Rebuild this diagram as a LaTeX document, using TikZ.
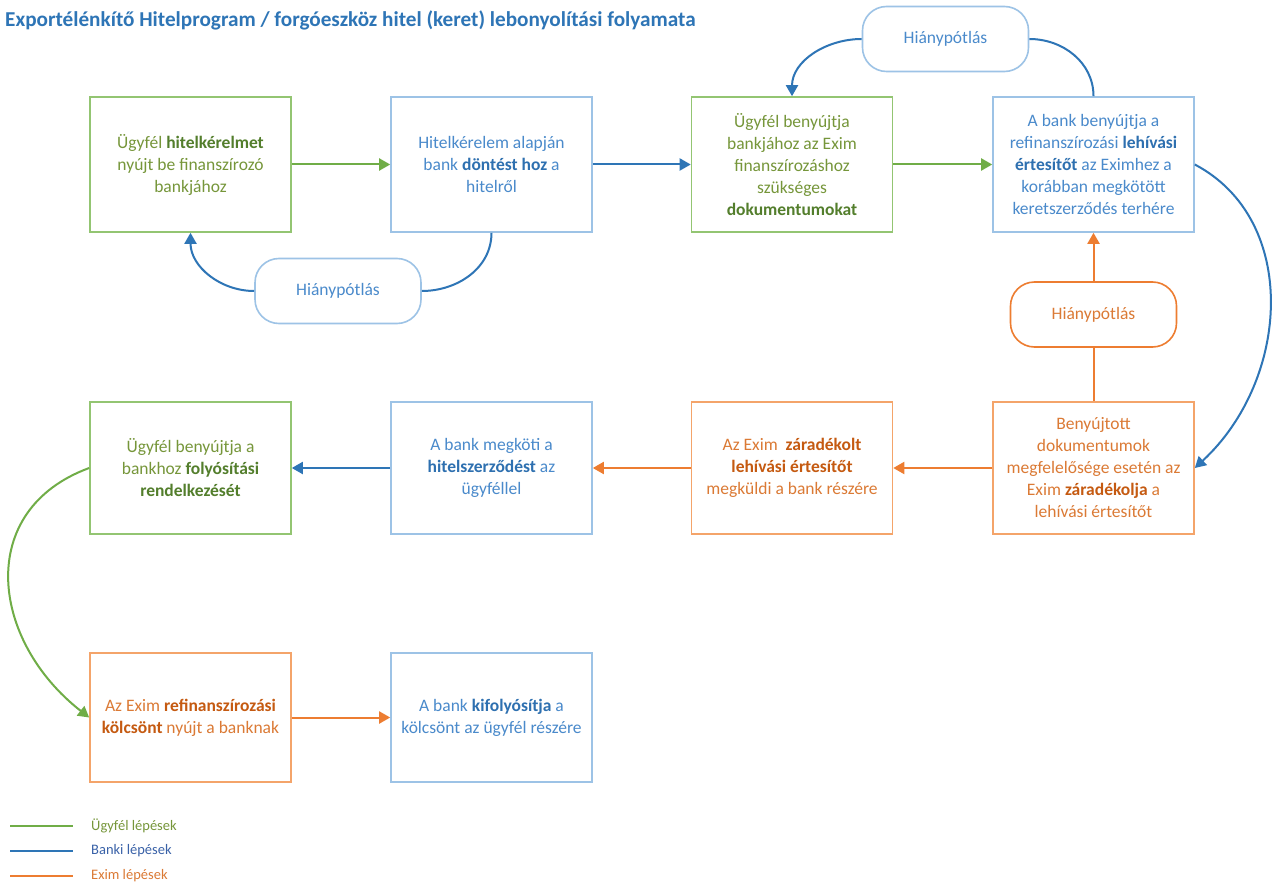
\documentclass[tikz,border=0pt]{standalone}
\usepackage{fontspec}
\setmainfont{Carlito}
\usetikzlibrary{arrows.meta}
\definecolor{gline}{HTML}{70AD47}
\definecolor{bline}{HTML}{2E75B6}
\definecolor{oline}{HTML}{ED7D31}
\definecolor{gborder}{HTML}{93C572}
\definecolor{bborder}{HTML}{9DC3E6}
\definecolor{oborder}{HTML}{F4A46A}
\definecolor{gtext}{HTML}{76963A}
\definecolor{gbold}{HTML}{537E2C}
\definecolor{btext}{HTML}{4A8ACB}
\definecolor{bbold}{HTML}{2E70B0}
\definecolor{otext}{HTML}{DB7A35}
\definecolor{obold}{HTML}{C55A11}
\definecolor{titlec}{HTML}{2E75B6}
\definecolor{legblue}{HTML}{3A62A8}
\newcommand\gbf[1]{\textbf{\color{gbold}#1}}
\newcommand\bbf[1]{\textbf{\color{bbold}#1}}
\newcommand\obf[1]{\textbf{\color{obold}#1}}
\tikzset{
  x=1pt, y=-1pt,
  box/.style={draw, line width=1.6pt, rectangle, minimum width=201pt, inner sep=0pt, align=center,
    font=\fontsize{17.5}{22}\selectfont},
  gbox/.style={box, draw=gborder, text=gtext},
  bbox/.style={box, draw=bborder, text=btext},
  obox/.style={box, draw=oborder, text=otext},
  hpbox/.style={draw, line width=1.6pt, rectangle, rounded corners=24pt, minimum width=166pt, minimum height=65pt,
    inner sep=0pt, font=\fontsize{17.5}{22}\selectfont},
  conn/.style={line width=2pt},
  arr/.style={conn, -{Triangle[length=11pt,width=12pt]}},
  legtext/.style={anchor=west, inner sep=0pt, font=\fontsize{14.5}{16}\selectfont},
}
\begin{document}
\begin{tikzpicture}
\useasboundingbox (0,0) rectangle (1276,885);
\fill[white] (0,0) rectangle (1276,885);

\node[anchor=west, inner sep=0pt, text=titlec, font=\fontsize{21.2}{25}\selectfont\bfseries] (title) at (5,20)
  {Exportélénkítő Hitelprogram / forgóeszköz hitel (keret) lebonyolítási folyamata};

% row 1
\node[gbox, minimum height=135pt] (B1) at (190.5,164.5)
  {Ügyfél \gbf{hitelkérelmet}\\nyújt be finanszírozó\\bankjához};
\node[bbox, minimum height=135pt] (B2) at (491.5,164.5)
  {Hitelkérelem alapján\\bank \bbf{döntést hoz} a\\hitelről};
\node[gbox, minimum height=135pt] (B3) at (792,164.5)
  {Ügyfél benyújtja\\bankjához az Exim\\finanszírozáshoz\\szükséges\\\gbf{dokumentumokat}};
\node[bbox, minimum height=135pt] (B4) at (1093.5,164.5)
  {A bank benyújtja a\\refinanszírozási \bbf{lehívási}\\\bbf{értesítőt} az Eximhez a\\korábban megkötött\\keretszerződés terhére};

% row 2
\node[gbox, minimum height=132pt] (C1) at (190.5,468)
  {Ügyfél benyújtja a\\bankhoz \gbf{folyósítási}\\\gbf{rendelkezését}};
\node[bbox, minimum height=132pt] (C2) at (491.5,468)
  {A bank megköti a\\\bbf{hitelszerződést} az\\ügyféllel};
\node[obox, minimum height=132pt] (C3) at (792,468)
  {Az Exim~ \obf{záradékolt}\\\obf{lehívási értesítőt}\\megküldi a bank részére};
\node[obox, minimum height=132pt] (C4) at (1093.5,468)
  {Benyújtott\\dokumentumok\\megfelelősége esetén az\\Exim \obf{záradékolja} a\\lehívási értesítőt};

% row 3
\node[obox, minimum height=129pt] (D1) at (190.5,717.5)
  {Az Exim \obf{refinanszírozási}\\\obf{kölcsönt} nyújt a banknak};
\node[bbox, minimum height=129pt] (D2) at (491.5,717.5)
  {A bank \bbf{kifolyósítja} a\\kölcsönt az ügyfél részére};

% Hiánypótlás
\node[hpbox, draw=bborder, text=btext] (H1) at (338,291) {Hiánypótlás};
\node[hpbox, draw=bborder, text=btext] (H2) at (945.5,39) {Hiánypótlás};
\node[hpbox, draw=oline, text=otext] (H3) at (1093.5,314.5) {Hiánypótlás};

% main flow
\draw[arr, gline] (B1) -- (B2);
\draw[arr, bline] (B2) -- (B3);
\draw[arr, gline] (B3) -- (B4);
\draw[arr, bline] (B4.east) .. controls (1300,220) and (1290,380) .. (C4.east);
\draw[arr, oline] (C4) -- (C3);
\draw[arr, oline] (C3) -- (C2);
\draw[arr, bline] (C2) -- (C1);
\draw[arr, gline] (C1.west) .. controls (-25,510) and (-10,640) .. (D1.west);
\draw[arr, oline] (D1) -- (D2);

% loops
\draw[conn, bline] (B2.south) to[out=-90,in=0] (H1.east);
\draw[arr, bline] (H1.west) to[out=180,in=-90] (B1.south);
\draw[conn, bline] (B4.north) to[out=90,in=0] (H2.east);
\draw[arr, bline] (H2.west) to[out=180,in=90] (B3.north);
\draw[conn, oline] (C4.north) -- (H3.south);
\draw[arr, oline] (H3.north) -- (B4.south);

% legend
\coordinate (L1a) at (10,826); \coordinate (L1b) at (73,826);
\coordinate (L2a) at (10,851); \coordinate (L2b) at (73,851);
\coordinate (L3a) at (10,876); \coordinate (L3b) at (73,876);
\draw[conn, gline] (L1a) -- (L1b);
\draw[conn, bline] (L2a) -- (L2b);
\draw[conn, oline] (L3a) -- (L3b);
\node[legtext, text=gtext] (T1) at (91,826) {Ügyfél lépések};
\node[legtext, text=legblue] (T2) at (91,851) {Banki lépések};
\node[legtext, text=otext] (T3) at (91,876) {Exim lépések};
\end{tikzpicture}
\end{document}
